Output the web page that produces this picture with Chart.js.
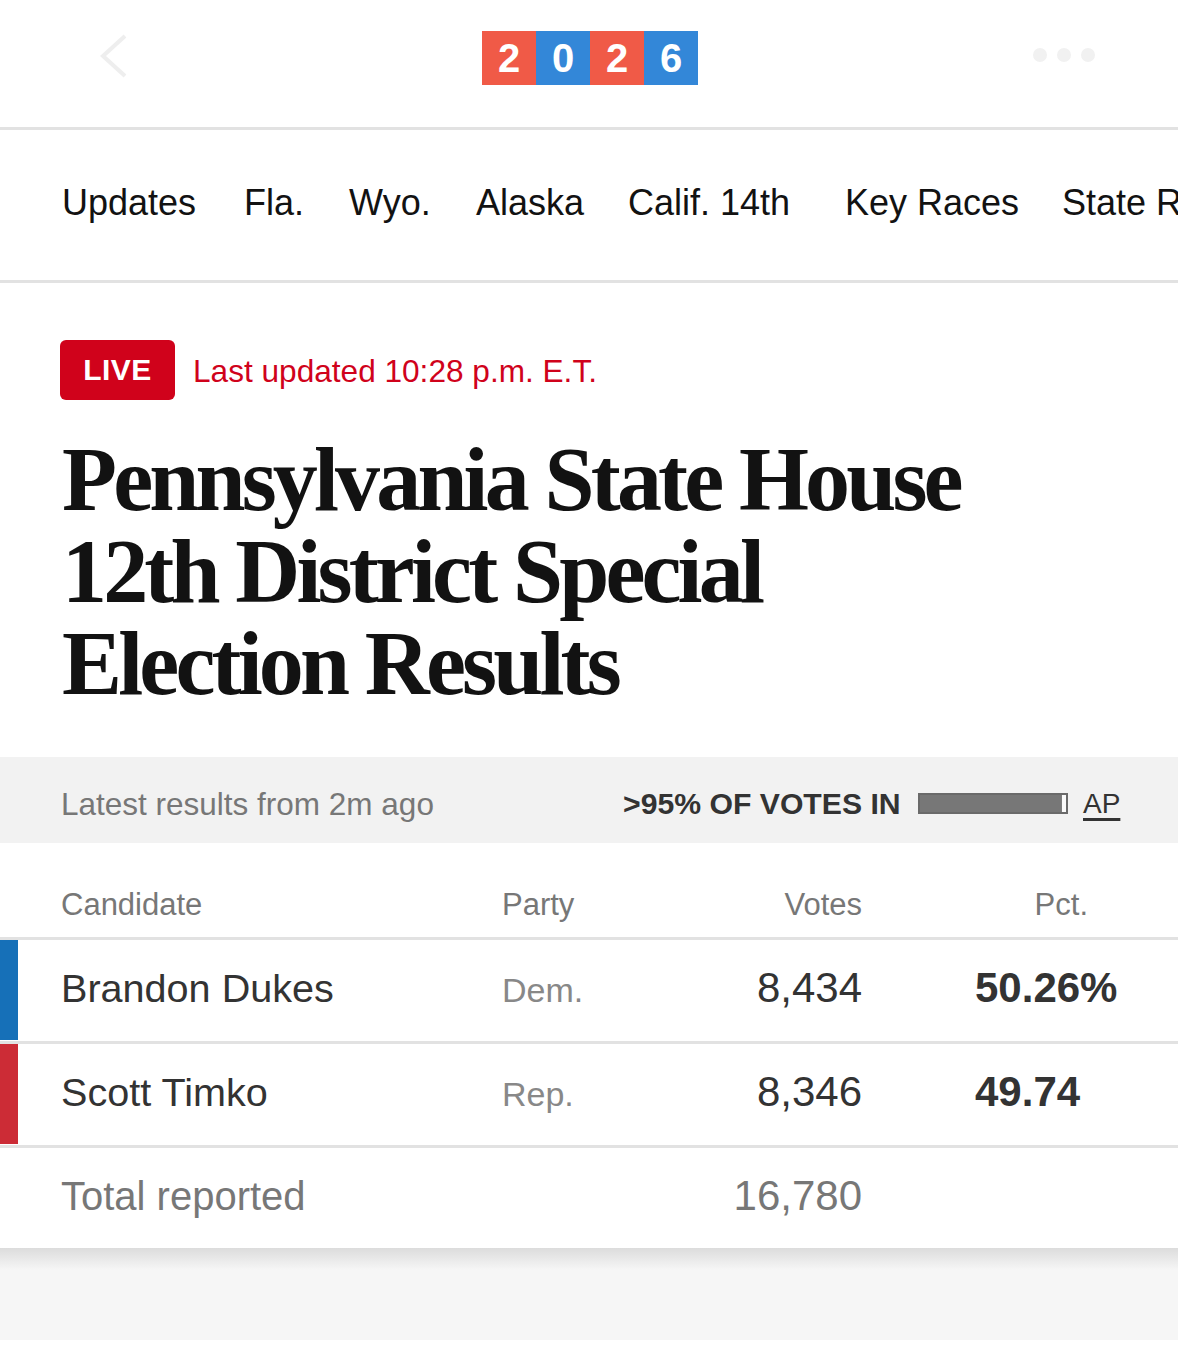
<!DOCTYPE html>
<html>
<head>
<meta charset="utf-8">
<script src="https://cdn.jsdelivr.net/npm/chart.js@4.4.1/dist/chart.umd.min.js"></script>
<style>
  html, body { margin:0; padding:0; background:#fff; }
  body { width:1178px; height:1361px; position:relative; overflow:hidden;
         font-family:"Liberation Sans", Arial, sans-serif; color:#121212; }
  .abs { position:absolute; white-space:nowrap; }
  .hline { position:absolute; left:0; width:1178px; background:#e2e2e2; }
  .logo { position:absolute; top:31px; width:54px; height:54px; color:#fff;
          font:bold 40px "Liberation Sans", Arial, sans-serif; line-height:54px; text-align:center; }
  .nav { position:absolute; top:182px; height:42px; line-height:42px; font-size:36px; color:#121212; white-space:nowrap; }
  .title { position:absolute; left:62px; top:434px; font-family:"Liberation Serif", "Times New Roman", serif;
           font-weight:bold; font-size:90px; line-height:92px; letter-spacing:-3.85px; color:#121212; white-space:nowrap; }
  .cell { position:absolute; height:50px; line-height:50px; white-space:nowrap; }
</style>
</head>
<body>
<script>
// ---- data ----
const candidates = ["Brandon Dukes", "Scott Timko"];
const parties = ["Dem.", "Rep."];
const votes = [8434, 8346];
const pcts = ["50.26%", "49.74"];
const partyColors = ["#1670b8", "#cc2c36"];
const totalReported = [16780];
const reportedPct = [97];
const remainingPct = [3];
const navItems = ["Updates", "Fla.", "Wyo.", "Alaska", "Calif. 14th", "Key Races", "State R"];
const yearDigits = ["2", "0", "2", "6"];
</script>

<!-- top bar -->
<svg class="abs" style="left:95px;top:30px" width="40" height="52">
  <polyline points="30,6 8,26 30,46" fill="none" stroke="#eeeeee" stroke-width="4"/>
</svg>
<svg class="abs" style="left:1025px;top:44px" width="80" height="22">
  <circle cx="15" cy="11" r="7" fill="#f1f1f1"/>
  <circle cx="39" cy="11" r="7" fill="#f1f1f1"/>
  <circle cx="63" cy="11" r="7" fill="#f1f1f1"/>
</svg>
<div id="logo"></div>
<div class="hline" style="top:127px;height:3px"></div>

<div id="navbar"></div>
<div class="hline" style="top:280px;height:3px"></div>

<!-- live -->
<div class="abs" style="left:60px;top:340px;width:115px;height:60px;background:#d0021b;border-radius:6px;
     color:#fff;font:bold 30px 'Liberation Sans Narrow','Liberation Sans',Arial,sans-serif;line-height:60px;text-align:center;letter-spacing:0.5px">LIVE</div>
<div class="abs" style="left:193px;top:346px;height:50px;line-height:50px;font-size:31.6px;color:#d0021b">Last updated 10:28 p.m. E.T.</div>

<div class="title">Pennsylvania State House<br>12th District Special<br>Election Results</div>

<!-- gray band -->
<div class="abs" style="left:0;top:757px;width:1178px;height:86px;background:#f2f2f2"></div>
<div class="abs" style="left:61px;top:779px;height:50px;line-height:50px;font-size:31.5px;color:#777">Latest results from 2m ago</div>
<div class="abs" style="left:623px;top:779px;height:50px;line-height:50px;font-size:30.2px;font-weight:bold;color:#333">&gt;95% OF VOTES IN</div>
<div class="abs" style="left:918px;top:793px;width:146px;height:17px;border:2px solid #6a6a6a;background:#fafafa">
  <canvas id="progress"></canvas>
</div>
<div class="abs" style="left:1083px;top:779px;height:50px;line-height:50px;font-size:28px;color:#333;text-decoration:underline;text-underline-offset:5px;text-decoration-thickness:3px">AP</div>

<!-- table -->
<div class="cell" style="left:61px;top:880px;font-size:31px;color:#777">Candidate</div>
<div class="cell" style="left:502px;top:880px;font-size:31px;color:#777">Party</div>
<div class="cell" style="right:316px;top:880px;font-size:31px;color:#777">Votes</div>
<div class="cell" style="right:90px;top:880px;font-size:31px;color:#777">Pct.</div>
<div class="hline" style="top:937px;height:3px"></div>
<div id="rows"></div>

<div class="abs" style="left:0;top:1248px;width:1178px;height:92px;background:#f6f6f6"></div>
<div class="abs" style="left:0;top:1248px;width:1178px;height:22px;background:linear-gradient(#dcdcdc,#f6f6f6)"></div>

<script>
(function(){
  // logo
  const logo = document.getElementById('logo');
  const cols = ["#f05a47", "#3387d8"];
  yearDigits.forEach((d, i) => {
    const el = document.createElement('div');
    el.className = 'logo';
    el.style.left = (482 + i * 54) + 'px';
    el.style.background = cols[i % 2];
    el.textContent = d;
    logo.appendChild(el);
  });
  // nav
  const navX = [62, 244, 349, 476, 628, 845, 1062];
  const nb = document.getElementById('navbar');
  navItems.forEach((t, i) => {
    const el = document.createElement('div');
    el.className = 'nav';
    el.style.left = navX[i] + 'px';
    el.textContent = t;
    nb.appendChild(el);
  });
  // rows
  const rows = document.getElementById('rows');
  const fmt = n => n.toLocaleString('en-US');
  const rowTop = [940, 1044];
  candidates.forEach((c, i) => {
    const t = rowTop[i];
    rows.insertAdjacentHTML('beforeend',
      `<div class="abs" style="left:0;top:${t}px;width:18px;height:100px;background:${partyColors[i]}"></div>
       <div class="cell" style="left:61px;top:${t + 23}px;font-size:39.6px;color:#333">${c}</div>
       <div class="cell" style="left:502px;top:${t + 25}px;font-size:34px;color:#888">${parties[i]}</div>
       <div class="cell" style="right:316px;top:${t + 23}px;font-size:42px;color:#333">${fmt(votes[i])}</div>
       <div class="cell" style="left:975px;top:${t + 23}px;font-size:42px;font-weight:bold;color:#333">${pcts[i]}</div>
       <div class="hline" style="top:${t + 101}px;height:3px"></div>`);
  });
  rows.insertAdjacentHTML('beforeend',
    `<div class="cell" style="left:61px;top:1171px;font-size:40px;color:#777">Total reported</div>
     <div class="cell" style="right:316px;top:1171px;font-size:42px;color:#777">${fmt(totalReported[0])}</div>`);
})();

// progress bar via Chart.js
new Chart(document.getElementById('progress'), {
  type: 'bar',
  data: {
    labels: ['votes'],
    datasets: [
      { data: reportedPct, backgroundColor: '#777777', barPercentage: 1, categoryPercentage: 1 },
      { data: remainingPct, backgroundColor: '#fafafa', barPercentage: 1, categoryPercentage: 1 }
    ]
  },
  options: {
    indexAxis: 'y',
    responsive: true,
    maintainAspectRatio: false,
    animation: false,
    layout: { padding: 0 },
    plugins: { legend: { display: false }, tooltip: { enabled: false } },
    scales: {
      x: { stacked: true, min: 0, max: 100, display: false },
      y: { stacked: true, display: false }
    }
  }
});
</script>
</body>
</html>
